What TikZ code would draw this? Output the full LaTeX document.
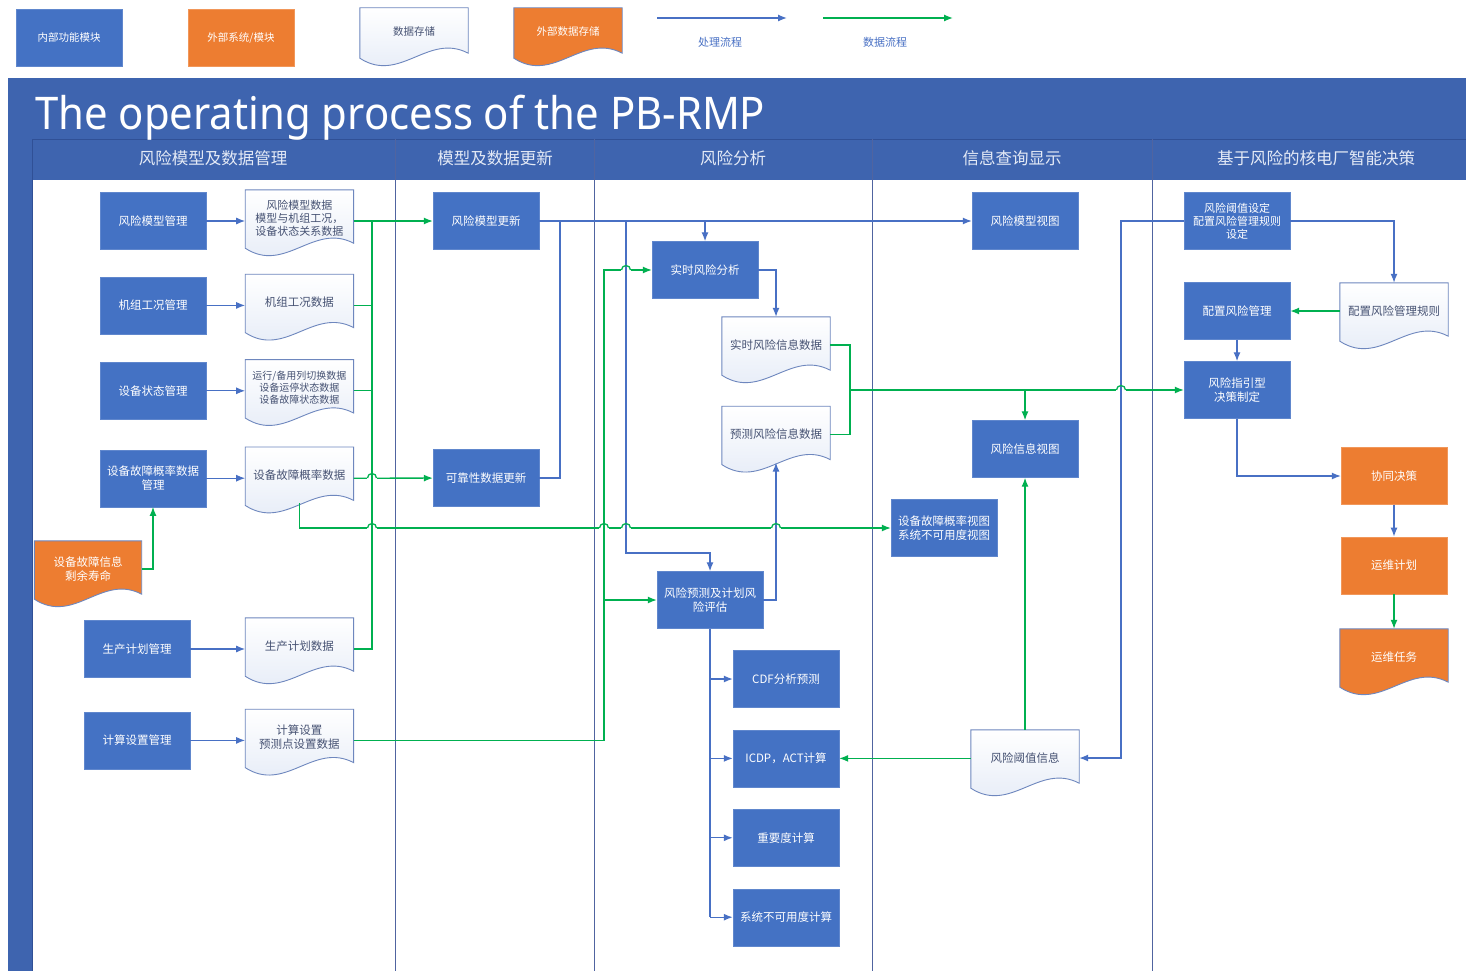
\documentclass[tikz,border=0pt]{standalone}
\usepackage{fontspec}
\setmainfont{Noto Sans CJK SC}
\newfontfamily\titlefont{Noto Sans}
\usetikzlibrary{positioning,calc,arrows.meta}
\definecolor{funcblue}{RGB}{68,114,196}
\definecolor{funcedge}{RGB}{96,135,205}
\definecolor{extorange}{RGB}{237,125,49}
\definecolor{bandblue}{RGB}{62,100,175}
\definecolor{bandline}{RGB}{48,80,150}
\definecolor{lineblue}{RGB}{72,112,196}
\definecolor{linegreen}{RGB}{0,176,80}
\definecolor{docedge}{RGB}{110,135,190}
\definecolor{docshade}{RGB}{226,233,246}
\definecolor{doctext}{RGB}{70,82,115}
\definecolor{divider}{RGB}{80,100,160}
\definecolor{headtext}{RGB}{228,234,246}
\pgfdeclarelayer{back}
\pgfdeclarelayer{bg}
\pgfsetlayers{back,bg,main}
\tikzset{func/.style={draw=funcedge,fill=funcblue,text=white,minimum width=106pt,minimum height=57pt,
                      align=center,inner sep=2pt,font=\fontsize{11.5}{14}\selectfont},
         ext/.style={func,fill=extorange,draw=extorange!80!white},
         datadoc/.style={minimum width=108pt,minimum height=56pt,align=center,inner sep=2pt,
                         text=doctext,font=\fontsize{11.5}{14}\selectfont},
         extdoc/.style={datadoc,text=white},
         docpaint/.style={draw=docedge,line width=0.9pt,top color=white,bottom color=docshade},
         extpaint/.style={draw=docedge,line width=0.9pt,fill=extorange},
         head/.style={text=headtext,font=\fontsize{16.5}{18}\selectfont},
         legtext/.style={text=lineblue,font=\fontsize{11}{13}\selectfont},
         divider/.style={draw=divider,line width=1pt}
}
\tikzstyle{proc} = [draw=lineblue,line width=1.3pt,-{Latex[length=9pt,width=7pt]}]
\tikzstyle{data} = [draw=linegreen,line width=1.3pt,-{Latex[length=9pt,width=7pt]}]
\tikzstyle{pline} = [draw=lineblue,line width=1.3pt]
\tikzstyle{dline} = [draw=linegreen,line width=1.3pt]
% wavy outline of a data store, under the node text
\newcommand{\docout}[2]{%
  \begin{pgfonlayer}{bg}
  \path[#2] (#1.north west) -- (#1.north east) -- ($(#1.south east)+(0,-3)$)
    .. controls ($(#1.south east)+(-40,-24)$) and ($(#1.south west)+(40,28)$) .. ($(#1.south west)+(0,2)$) -- cycle;
  \end{pgfonlayer}}
% line jump where a green line passes over another one
\newcommand{\hop}[2]{%
  \fill[white] ($#1+(-5,-1.6)$) rectangle ($#1+(5,1.6)$);
  \draw[#2,line width=1.3pt] ($#1+(0,-2.2)$) -- ($#1+(0,2.2)$);
  \draw[linegreen,line width=1.3pt] ($#1+(-4.5,0)$) arc[start angle=180,end angle=360,radius=4.5];}

\begin{document}
\begin{tikzpicture}[x=1pt,y=-1pt]
\useasboundingbox (0,0) rectangle (1466,971);

\begin{pgfonlayer}{back}
\fill[white] (0,0) rectangle (1466,971);
\fill[bandblue] (8,78) rectangle (1466,180);
\fill[bandblue] (8,180) rectangle (32,971);
\draw[bandline,line width=0.8pt] (32,139) -- (1466,139);
\draw[bandline,line width=0.8pt] (32,139) -- (32,971);
\foreach \x in {395,594,872,1152}
  \draw[divider] (\x,139) -- (\x,971);
\end{pgfonlayer}

% legend
\node[func,font=\fontsize{10.5}{13}\selectfont] (leginner) at (69,38) {内部功能模块};
\node[ext,font=\fontsize{10.5}{13}\selectfont] (legouter) at (241,38) {外部系统/模块};
\node[datadoc,minimum height=48pt,font=\fontsize{10.5}{13}\selectfont] (legdoc) at (414,32) {数据存储};
\node[extdoc,minimum height=48pt,font=\fontsize{10.5}{13}\selectfont] (legext) at (568,32) {外部数据存储};
\docout{legdoc}{docpaint}
\docout{legext}{extpaint}
\coordinate (lp1) at (657,18);
\coordinate (lp2) at (787,18);
\coordinate (ld1) at (823,18);
\coordinate (ld2) at (953,18);
\draw[proc] (lp1) -- (lp2);
\draw[data] (ld1) -- (ld2);
\node[legtext] (lptext) at (720,42) {处理流程};
\node[legtext] (ldtext) at (885,42) {数据流程};

% title and lane heads
\node[anchor=base west,inner sep=0pt,text=white,font=\titlefont\fontsize{45}{50}\selectfont] (title) at (35,130) {\scalebox{0.93}[1]{The operating process of the PB-RMP}};
\node[head] (head1) at (213,158) {风险模型及数据管理};
\node[head] (head2) at (495,158) {模型及数据更新};
\node[head] (head3) at (733,158) {风险分析};
\node[head] (head4) at (1012,158) {信息查询显示};
\node[head] (head5) at (1316,158) {基于风险的核电厂智能决策};

% lane 1
\node[func] (modelmgr) at (153,221) {风险模型管理};
\node[func,below=27pt of modelmgr] (unitmgr) {机组工况管理};
\node[func,below=28pt of unitmgr] (statemgr) {设备状态管理};
\node[func,below=30pt of statemgr] (failmgr) {设备故障概率数据\\管理};
\node[func] (planmgr) at (137,649) {生产计划管理};
\node[func,below=34pt of planmgr] (calcmgr) {计算设置管理};
\node[datadoc,right=39pt of modelmgr,yshift=3pt,font=\fontsize{11}{13}\selectfont] (modeldata) {风险模型数据\\模型与机组工况，\\设备状态关系数据};
\node[datadoc,right=39pt of unitmgr,yshift=3pt] (unitdata) {机组工况数据};
\node[datadoc,right=39pt of statemgr,yshift=3pt,font=\fontsize{10}{12}\selectfont] (statedata) {运行/备用列切换数据\\设备运停状态数据\\设备故障状态数据};
\node[datadoc,right=39pt of failmgr,yshift=3pt] (faildata) {设备故障概率数据};
\node[extdoc,minimum width=107pt] (failinfo) at (88,569) {设备故障信息\\剩余寿命};
\node[datadoc,right=55pt of planmgr,yshift=3pt] (plandata) {生产计划数据};
\node[datadoc,right=55pt of calcmgr,yshift=3pt] (calcdata) {计算设置\\预测点设置数据};
\docout{modeldata}{docpaint}
\docout{unitdata}{docpaint}
\docout{statedata}{docpaint}
\docout{faildata}{docpaint}
\docout{failinfo}{extpaint}
\docout{plandata}{docpaint}
\docout{calcdata}{docpaint}

% lane 2
\node[func] (modelupd) at (486,221) {风险模型更新};
\node[func] (relupd) at (486,478) {可靠性数据更新};

% lane 3
\node[func] (rtanalysis) at (705,270) {实时风险分析};
\node[datadoc] (rtdata) at (776,345) {实时风险信息数据};
\node[datadoc,below=33pt of rtdata] (preddata) {预测风险信息数据};
\node[func] (predassess) at (710,600) {风险预测及计划风\\险评估};
\node[func] (cdf) at (786,679) {CDF分析预测};
\node[func,below=22pt of cdf] (icdp) {ICDP，ACT计算};
\node[func,below=22pt of icdp] (importance) {重要度计算};
\node[func,below=22pt of importance] (unavail) {系统不可用度计算};
\docout{rtdata}{docpaint}
\docout{preddata}{docpaint}

% lane 4
\node[func] (modelview) at (1025,221) {风险模型视图};
\node[func] (riskview) at (1025,449) {风险信息视图};
\node[func] (failview) at (944,528) {设备故障概率视图\\系统不可用度视图};
\node[datadoc] (thresh) at (1025,758) {风险阈值信息};
\docout{thresh}{docpaint}

% lane 5
\node[func,font=\fontsize{11}{13}\selectfont] (threshset) at (1237,221) {风险阈值设定\\配置风险管理规则\\设定};
\node[func] (rulemgr) at (1237,311) {配置风险管理};
\node[datadoc] (rules) at (1394,311) {配置风险管理规则};
\node[func] (decision) at (1237,390) {风险指引型\\决策制定};
\node[ext] (coop) at (1394,476) {协同决策};
\node[ext,below=32pt of coop] (omplan) {运维计划};
\node[extdoc] (omtask) at (1394,657) {运维任务};
\docout{rules}{docpaint}
\docout{omtask}{extpaint}

% bend points
\coordinate (upjoin) at (560,221);
\coordinate (updrop) at (626,221);
\coordinate (updown) at (626,553);
\coordinate (setdrop) at (1121,221);
\coordinate (busup) at (372,221);
\coordinate (calcup) at (604,270);
\coordinate (riskbus) at (850,390);

% process flow
\draw[proc] (modelmgr.east) -- (modelmgr.east -| modeldata.west);
\draw[proc] (unitmgr.east) -- (unitmgr.east -| unitdata.west);
\draw[proc] (statemgr.east) -- (statemgr.east -| statedata.west);
\draw[proc] (failmgr.east) -- (failmgr.east -| faildata.west);
\draw[proc] (planmgr.east) -- (planmgr.east -| plandata.west);
\draw[proc] (calcmgr.east) -- (calcmgr.east -| calcdata.west);
\draw[proc] (modelupd) -- (modelview);
\draw[pline] (relupd.east) -| (upjoin);
\draw[proc] (rtanalysis |- modelupd) -- (rtanalysis);
\draw[proc] (updrop) -- (updown) -| (predassess);
\draw[proc] (rtanalysis.east) -| (rtdata);
\draw[proc] (predassess.east) -| (preddata);
\draw[pline] (predassess.south) -- (predassess.south |- unavail);
\foreach \c in {cdf,icdp,importance,unavail}
  \draw[proc] (predassess.south |- \c) -- (\c);
\draw[proc] (threshset.west) -- (setdrop) |- (thresh);
\draw[proc] (threshset.east) -| (rules);
\draw[proc] (rulemgr) -- (decision);
\draw[proc] (decision) |- (coop);
\draw[proc] (coop) -- (omplan);

% data flow
\draw[data] (modeldata.east |- modelupd) -- (modelupd);
\draw[dline] (busup) |- (plandata.east |- planmgr);
\draw[dline] (unitdata.east |- unitmgr) -- (busup |- unitmgr);
\draw[dline] (statedata.east |- statemgr) -- (busup |- statemgr);
\draw[data] (faildata.east |- failmgr) -- (relupd);
\draw[data] (faildata.south) |- (failview);
\draw[data] (failinfo.east) -| (failmgr);
\draw[data] (calcdata.east |- calcmgr) -| (calcup) -- (rtanalysis);
\draw[data] (calcup |- predassess) -- (predassess);
\draw[dline] (rtdata.east) -| (riskbus);
\draw[dline] (preddata.east) -| (riskbus);
\draw[data] (riskbus) -- (decision);
\draw[data] (riskbus -| riskview) -- (riskview);
\draw[data] (thresh) -- (riskview);
\draw[data] (thresh.west |- icdp) -- (icdp);
\draw[data] (rules.west |- rulemgr) -- (rulemgr);
\draw[data] (omplan) -- (omtask);

% line jumps
\hop{(372,478)}{linegreen}
\hop{(372,528)}{linegreen}
\hop{(604,528)}{linegreen}
\hop{(626,528)}{lineblue}
\hop{(776,528)}{lineblue}
\hop{(626,270)}{lineblue}
\hop{(1121,390)}{lineblue}
\end{tikzpicture}
\end{document}
